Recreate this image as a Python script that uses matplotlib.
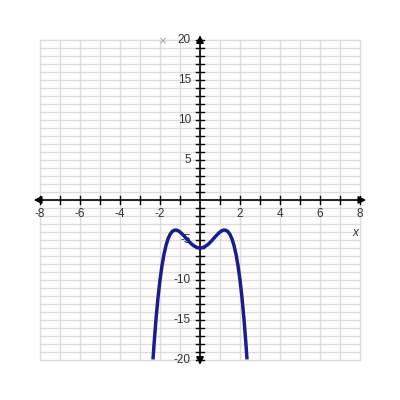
import numpy as np
import matplotlib.pyplot as plt

# curve points
curve_x = [-2.35, -2.3, -2.2, -2.1, -2.0, -1.9, -1.8, -1.7, -1.6, -1.5, -1.4, -1.3, -1.2,
           -1.1, -1.0, -0.9, -0.8, -0.7, -0.6, -0.5, -0.4, -0.3, -0.2, -0.1, 0.0,
           0.1, 0.2, 0.3, 0.4, 0.5, 0.6, 0.7, 0.8, 0.9, 1.0, 1.1, 1.2, 1.3, 1.4,
           1.5, 1.6, 1.7, 1.8, 1.9, 2.0, 2.1, 2.2, 2.3, 2.35]
curve_y = [-19.93, -18.11, -14.91, -12.22, -10.0, -8.2, -6.78, -5.68, -4.87, -4.31, -3.96, -3.79, -3.75,
           -3.83, -4.0, -4.23, -4.49, -4.77, -5.05, -5.31, -5.55, -5.74, -5.88, -5.97, -6.0,
           -5.97, -5.88, -5.74, -5.55, -5.31, -5.05, -4.77, -4.49, -4.23, -4.0, -3.83, -3.75, -3.79, -3.96,
           -4.31, -4.87, -5.68, -6.78, -8.2, -10.0, -12.22, -14.91, -18.11, -19.93]

x_ticks = [-8, -7, -6, -5, -4, -3, -2, -1, 1, 2, 3, 4, 5, 6, 7, 8]
x_labels = [-8, -6, -4, -2, 2, 4, 6, 8]
y_ticks = [v for v in range(-20, 21) if v != 0]
y_labels = [-20, -15, -10, -5, 5, 10, 15, 20]

fig = plt.figure(figsize=(4, 4), dpi=100)
ax = fig.add_axes([0, 0, 1, 1])
ax.set_xlim(-10, 10)
ax.set_ylim(-25, 25)
ax.axis('off')

grid_c = '#dcdcdc'
for gx in range(-8, 9):
    ax.plot([gx, gx], [-20, 20], color=grid_c, lw=1, zorder=1)
for gy in range(-20, 21):
    ax.plot([-8, 8], [gy, gy], color=grid_c, lw=1, zorder=1)

# axes with arrowheads
ax.annotate('', xy=(8.45, 0), xytext=(-8.45, 0),
            arrowprops=dict(arrowstyle='<|-|>', color='black', lw=1.2, mutation_scale=11), zorder=3)
ax.annotate('', xy=(0, 20.95), xytext=(0, -20.95),
            arrowprops=dict(arrowstyle='<|-|>', color='black', lw=1.2, mutation_scale=11), zorder=3)

for tx in x_ticks:
    ax.plot([tx, tx], [-0.45, 0.45], color='black', lw=1, zorder=3)
for ty in y_ticks:
    ax.plot([-0.2, 0.2], [ty, ty], color='black', lw=1, zorder=3)

font = dict(family='Liberation Sans', fontsize=8.5, color='#333333')
for lx in x_labels:
    ax.text(lx, -1.8, str(lx), ha='center', va='center', **font)
for ly in y_labels:
    ax.text(-0.45, ly, str(ly), ha='right', va='center', **font)

ax.text(7.75, -4.1, 'x', ha='center', va='center', style='italic', **font)
ax.text(-1.85, 19.8, '×', ha='center', va='center', family='DejaVu Sans', fontsize=7, color='#999999')

ax.plot(curve_x, curve_y, color='#1c1c8a', lw=2.5, zorder=4, solid_capstyle='butt')

fig.savefig('out.png', dpi=100)
